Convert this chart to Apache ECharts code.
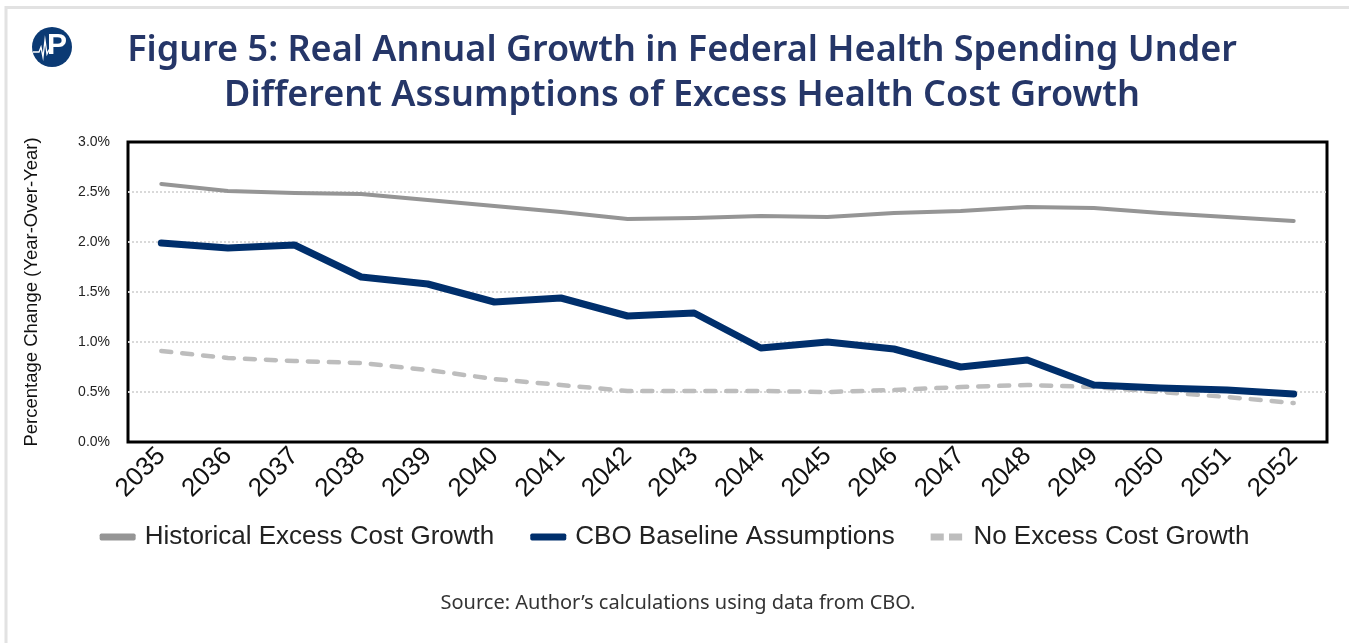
<!DOCTYPE html>
<html>
<head>
<meta charset="utf-8">
<script src="https://cdn.jsdelivr.net/npm/echarts@6/dist/echarts.min.js"></script>
<style>
  html, body { margin: 0; padding: 0; background: #fff; }
  #chart { width: 1349px; height: 643px; }
</style>
</head>
<body>
<div id="chart"></div>
<script>
// Real annual growth (%) in federal health spending, 2035–2052
const years = ['2035','2036','2037','2038','2039','2040','2041','2042','2043',
               '2044','2045','2046','2047','2048','2049','2050','2051','2052'];
const historicalExcess = [2.58, 2.51, 2.49, 2.48, 2.42, 2.36, 2.30, 2.23, 2.24,
                          2.26, 2.25, 2.29, 2.31, 2.35, 2.34, 2.29, 2.25, 2.21];
const cboBaseline = [1.99, 1.94, 1.97, 1.65, 1.58, 1.40, 1.44, 1.26, 1.29,
                     0.94, 1.00, 0.93, 0.75, 0.82, 0.57, 0.54, 0.52, 0.48];
const noExcess = [0.91, 0.84, 0.81, 0.79, 0.72, 0.63, 0.57, 0.51, 0.51,
                  0.51, 0.50, 0.52, 0.55, 0.57, 0.55, 0.50, 0.45, 0.39];
const seriesNames = ['Historical Excess Cost Growth', 'CBO Baseline Assumptions', 'No Excess Cost Growth'];

const chart = echarts.init(document.getElementById('chart'));
const navy = '#253668';

chart.setOption({
  backgroundColor: '#fff',
  animation: false,
  title: {
    text: 'Figure 5: Real Annual Growth in Federal Health Spending Under\nDifferent Assumptions of Excess Health Cost Growth',
    left: 677, top: 23, textAlign: 'center',
    textStyle: { color: navy, fontFamily: 'Noto Sans', fontWeight: 600, fontSize: 36, lineHeight: 45 }
  },
  graphic: [
    // outer frame
    { type: 'polyline', silent: true,
      shape: { points: [[6, 643], [6, 7.5], [1349, 7.5]] },
      style: { stroke: '#e2e2e2', lineWidth: 3, fill: null } },
    // logo badge
    { type: 'circle', shape: { cx: 52, cy: 47, r: 20 }, style: { fill: '#0b3a74' } },
    { type: 'text', left: 47, top: 31,
      style: { text: 'P', fill: '#fff', font: 'bold 30px "Liberation Sans"' } },
    { type: 'polyline',
      shape: { points: [[33, 52], [39, 52], [41, 47], [43, 57], [45, 40], [47, 54], [49, 50], [52, 50]] },
      style: { stroke: '#fff', lineWidth: 1.3, fill: null } },
    // source note
    { type: 'text', x: 678, y: 603,
      style: { text: 'Source: Author\u2019s calculations using data from CBO.', align: 'center',
               verticalAlign: 'middle', fill: '#333', font: '20px "Noto Sans"' } }
  ],
  legend: {
    data: [
      { name: seriesNames[0], icon: 'roundRect', itemStyle: { color: '#959595' } },
      { name: seriesNames[1], icon: 'roundRect', itemStyle: { color: '#002f6c' } },
      { name: seriesNames[2], icon: 'path://M0,0h15v8h-15zM21,0h15v8h-15z', itemStyle: { color: '#bdbdbd' } }
    ],
    left: 'center', top: 519,
    itemWidth: 36, itemHeight: 7, itemGap: 36,
    textStyle: { fontFamily: 'Liberation Sans', fontSize: 26, color: '#222', padding: [0, 0, 0, 4] }
  },
  grid: {
    left: 128, top: 142, right: 22, bottom: 201,
    show: true, borderColor: '#000', borderWidth: 3, backgroundColor: 'transparent'
  },
  xAxis: {
    type: 'category', data: years, boundaryGap: true,
    axisLine: { show: false }, axisTick: { show: false },
    axisLabel: { rotate: 45, margin: 10, fontFamily: 'Liberation Sans', fontSize: 26, color: '#111', interval: 0 }
  },
  yAxis: {
    type: 'value', min: 0, max: 3, interval: 0.5,
    name: 'Percentage Change (Year-Over-Year)', nameLocation: 'middle', nameGap: 87,
    nameTextStyle: { fontFamily: 'Liberation Sans', fontSize: 18.5, color: '#111' },
    axisLine: { show: false }, axisTick: { show: false },
    axisLabel: { margin: 18, fontFamily: 'Liberation Sans', fontSize: 14, color: '#222',
                 formatter: v => v.toFixed(1) + '%' },
    splitLine: { show: true, showMinLine: false, showMaxLine: false,
                 lineStyle: { color: '#d9d9d9', width: 2, type: [2, 2] } }
  },
  series: [
    { name: seriesNames[0], type: 'line', data: historicalExcess, showSymbol: false, symbol: 'none',
      color: '#959595', lineStyle: { color: '#959595', width: 4, cap: 'round', join: 'round' }, z: 3 },
    { name: seriesNames[2], type: 'line', data: noExcess, showSymbol: false, symbol: 'none',
      color: '#bdbdbd', lineStyle: { color: '#bdbdbd', width: 4.5, type: [10, 11], cap: 'round', join: 'round' }, z: 2 },
    { name: seriesNames[1], type: 'line', data: cboBaseline, showSymbol: false, symbol: 'none',
      color: '#002f6c', lineStyle: { color: '#002f6c', width: 7, cap: 'round', join: 'round' }, z: 4 }
  ]
});
</script>
</body>
</html>
